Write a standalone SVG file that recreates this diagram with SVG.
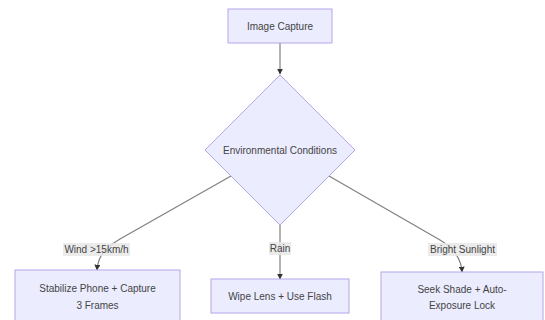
<svg xmlns="http://www.w3.org/2000/svg" width="545" height="320" viewBox="0 0 545 320">
<style>
.node rect, .node polygon { fill: #ECECFF; stroke: #b3a6e6; stroke-width: 1; }
.t { font-family: "Liberation Sans", Arial, sans-serif; font-size: 10px; fill: #444; text-anchor: middle; }
.edge { fill: none; stroke: #808080; stroke-width: 1.2; }
.lbl rect { fill: #e8e8e8; fill-opacity: 0.85; }
</style>
<defs>
<marker id="arr" viewBox="0 0 10 10" refX="9" refY="5" markerWidth="6" markerHeight="6" orient="auto" markerUnits="userSpaceOnUse">
<path d="M0,0 L10,5 L0,10 z" fill="#333"/>
</marker>
</defs>
<rect width="545" height="320" fill="#fff"/>
<g id="edges">
<path class="edge" d="M280,43 L280,74" marker-end="url(#arr)"/>
<path class="edge" d="M231,176 L120,239 C105,248 98,256 97,270" marker-end="url(#arr)"/>
<path class="edge" d="M280,225 L280,279" marker-end="url(#arr)"/>
<path class="edge" d="M329,176 L440,240 C452,247 461,256 462,272" marker-end="url(#arr)"/>
</g>
<g id="labels">
<g class="lbl"><rect x="63" y="243" width="67" height="13"/><text class="t" x="96.5" y="253">Wind &gt;15km/h</text></g>
<g class="lbl"><rect x="269" y="242" width="22" height="13"/><text class="t" x="280" y="252">Rain</text></g>
<g class="lbl"><rect x="428" y="243" width="69" height="13"/><text class="t" x="462.5" y="253">Bright Sunlight</text></g>
</g>
<g id="capture" class="node"><rect x="228" y="9" width="104" height="34"/><text class="t" x="280" y="29.5">Image Capture</text></g>
<g id="env" class="node"><polygon points="280,75 355,150 280,225 205,150"/><text class="t" x="280" y="153.5">Environmental Conditions</text></g>
<g id="stabilize" class="node"><rect x="15" y="270" width="165" height="53"/><text class="t" x="97.5" y="291.5">Stabilize Phone + Capture</text><text class="t" x="97.5" y="308.5">3 Frames</text></g>
<g id="wipe" class="node"><rect x="211" y="279" width="138" height="34"/><text class="t" x="280" y="299.5">Wipe Lens + Use Flash</text></g>
<g id="shade" class="node"><rect x="381" y="272" width="162" height="51"/><text class="t" x="462" y="292.5">Seek Shade + Auto-</text><text class="t" x="462" y="308.5">Exposure Lock</text></g>
</svg>
